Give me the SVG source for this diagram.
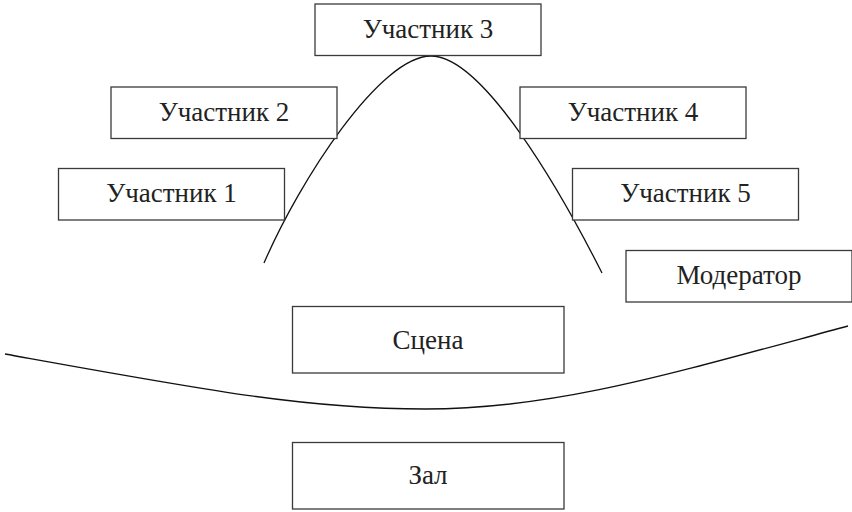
<svg xmlns="http://www.w3.org/2000/svg" width="852" height="512" viewBox="0 0 852 512">
<defs>
<rect id="pbox" width="226" height="51.5" fill="#fff" stroke="#3a3a3a" stroke-width="1.3"/>
<rect id="wbox" width="271.5" height="66.5" fill="#fff" stroke="#3a3a3a" stroke-width="1.3"/>
</defs>
<rect width="852" height="512" fill="#fff"/>
<g id="connectors" fill="none" stroke="#111" stroke-width="1.3">
<path d="M264,263 C300,180 380,56 431,56 C483,56 560,190 602,273"/>
<path d="M5,354 C205,390 305,409 425,409 C555,409 668,374.6 848,326"/>
</g>
<g font-family="'Liberation Serif', serif" font-size="27" fill="#222" text-anchor="middle">
<g id="participant3"><use href="#pbox" x="315" y="4"/><text x="428" y="38">Участник 3</text></g>
<g id="participant2"><use href="#pbox" x="111" y="87"/><text x="224" y="120.5">Участник 2</text></g>
<g id="participant4"><use href="#pbox" x="520" y="87"/><text x="633" y="120.5">Участник 4</text></g>
<g id="participant1"><use href="#pbox" x="58.5" y="168.5"/><text x="171.5" y="202">Участник 1</text></g>
<g id="participant5"><use href="#pbox" x="572.5" y="168.5"/><text x="685.5" y="202">Участник 5</text></g>
<g id="moderator"><use href="#pbox" x="626" y="250.5"/><text x="739" y="284">Модератор</text></g>
<g id="stage"><use href="#wbox" x="292.5" y="306.5"/><text x="428" y="348.5">Сцена</text></g>
<g id="hall"><use href="#wbox" x="292.5" y="442.5"/><text x="428" y="484">Зал</text></g>
</g>
</svg>
